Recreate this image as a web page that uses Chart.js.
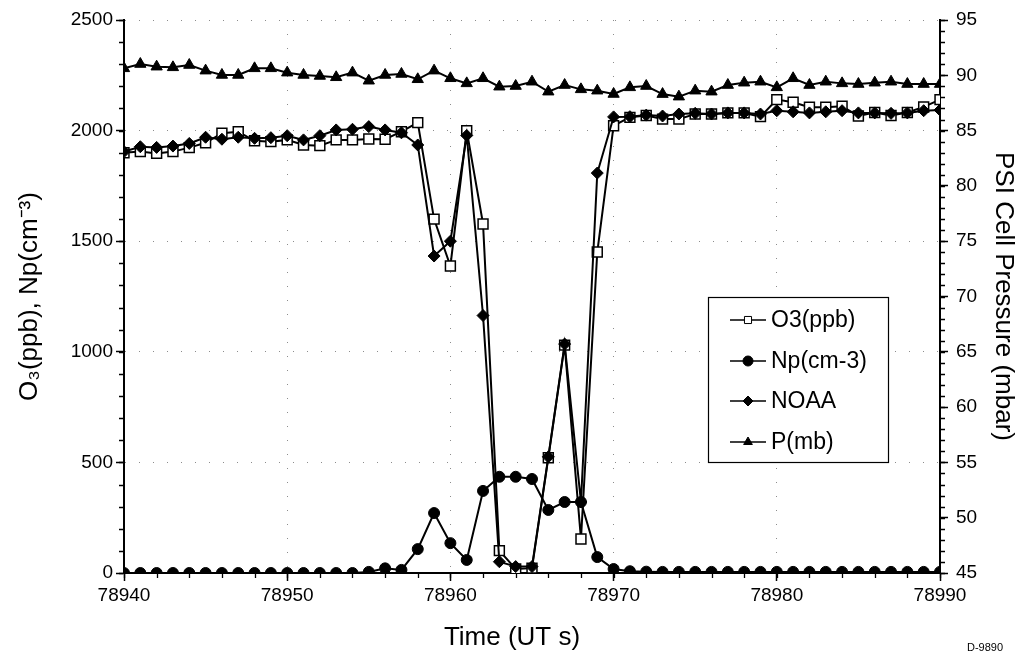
<!DOCTYPE html>
<html>
<head>
<meta charset="utf-8">
<script src="https://cdn.jsdelivr.net/npm/chart.js@4.4.1/dist/chart.umd.min.js"></script>
<style>
  html, body { margin: 0; padding: 0; background: #fff; }
  #wrap { position: relative; width: 1022px; height: 664px; }
</style>
</head>
<body>
<div id="wrap"><canvas id="c"></canvas></div>
<script>
const FONT = "'Liberation Sans', Arial, Helvetica, sans-serif";

// time stamps (UT s), one sample per second
const TIMES = [
  78940, 78941, 78942, 78943, 78944, 78945, 78946, 78947, 78948, 78949,
  78950, 78951, 78952, 78953, 78954, 78955, 78956, 78957, 78958, 78959,
  78960, 78961, 78962, 78963, 78964, 78965, 78966, 78967, 78968, 78969,
  78970, 78971, 78972, 78973, 78974, 78975, 78976, 78977, 78978, 78979,
  78980, 78981, 78982, 78983, 78984, 78985, 78986, 78987, 78988, 78989,
  78990
];

const O3 = [
  1900, 1905, 1897, 1905, 1923, 1945, 1988, 1995, 1954, 1950,
  1958, 1935, 1932, 1958, 1958, 1962, 1961, 1995, 2036, 1600,
  1388, 2000, 1578, 101, 18, 22, 521, 1030, 154, 1451,
  2022, 2060, 2068, 2052, 2052, 2075, 2075, 2080, 2080, 2063,
  2140, 2128, 2106, 2106, 2110, 2066, 2082, 2068, 2082, 2107,
  2140
];

const NP = [
  0, 0, 0, 0, 0, 0, 0, 0, 0, 0,
  0, 0, 0, 0, 0, 5, 21, 14, 108, 271,
  135, 59, 371, 435, 435, 425, 285, 321, 321, 72,
  18, 8, 6, 5, 5, 5, 5, 5, 5, 5,
  5, 5, 5, 5, 5, 5, 5, 5, 5, 5,
  5
];

const NOAA = [
  1905, 1927, 1924, 1930, 1942, 1970, 1961, 1970, 1965, 1968,
  1977, 1958, 1977, 2003, 2006, 2018, 2003, 1990, 1935, 1433,
  1500, 1978, 1164, 51, 29, 29, 525, 1035, 321, 1808,
  2062, 2063, 2070, 2066, 2075, 2078, 2075, 2080, 2080, 2075,
  2090, 2085, 2080, 2085, 2090, 2080, 2080, 2078, 2080, 2090,
  2093
];

const PRESS = [
  90.63, 91.02, 90.78, 90.72, 90.93, 90.42, 90.03, 90.03, 90.63, 90.63,
  90.24, 90.03, 89.94, 89.82, 90.24, 89.51, 90.03, 90.12, 89.64, 90.42,
  89.73, 89.27, 89.73, 88.97, 89.03, 89.42, 88.52, 89.12, 88.73, 88.61,
  88.31, 88.91, 89.03, 88.30, 88.07, 88.61, 88.52, 89.12, 89.33, 89.42,
  88.91, 89.73, 89.12, 89.42, 89.27, 89.21, 89.33, 89.42, 89.21, 89.21,
  89.21
];

const LABELS = ['O3(ppb)', 'Np(cm-3)', 'NOAA', 'P(mb)'];
const Y_TITLE = 'O\u2083(ppb), Np(cm\u207B\u00B3)';
const Y1_TITLE = 'PSI Cell Pressure (mbar)';
const X_TITLE = 'Time (UT s)';
const TAG = 'D-9890';

const pts = vals => TIMES.map((t, i) => ({ x: t, y: vals[i] }));

// marker shapes for the legend, same as the plot markers
function drawMarker(ctx, style, x, y, r, fill) {
  ctx.beginPath();
  if (style === 'rect') {
    const s = r * Math.SQRT1_2;
    ctx.rect(x - s, y - s, 2 * s, 2 * s);
  } else if (style === 'circle') {
    ctx.arc(x, y, r, 0, Math.PI * 2);
  } else if (style === 'rectRot') {
    ctx.moveTo(x, y - r); ctx.lineTo(x + r, y); ctx.lineTo(x, y + r); ctx.lineTo(x - r, y);
    ctx.closePath();
  } else {
    ctx.moveTo(x, y - r); ctx.lineTo(x + r * 0.87, y + r * 0.5); ctx.lineTo(x - r * 0.87, y + r * 0.5);
    ctx.closePath();
  }
  ctx.fillStyle = fill;
  ctx.fill();
  ctx.stroke();
}

const extras = {
  id: 'extras',
  afterDraw(chart) {
    const ctx = chart.ctx;
    const { x, y, y1 } = chart.scales;
    const a = chart.chartArea;
    ctx.save();

    // minor ticks
    ctx.strokeStyle = '#000';
    ctx.lineWidth = 1.3;
    ctx.beginPath();
    for (let v = 0; v <= 2500; v += 100) {
      const py = Math.round(y.getPixelForValue(v)) + 0.5;
      ctx.moveTo(a.left - 5, py); ctx.lineTo(a.left, py);
    }
    for (let v = 45; v <= 95; v += 1) {
      const py = Math.round(y1.getPixelForValue(v)) + 0.5;
      ctx.moveTo(a.right, py); ctx.lineTo(a.right + 5, py);
    }
    for (let v = 78940; v <= 78990; v += 2) {
      const px = Math.round(x.getPixelForValue(v)) + 0.5;
      ctx.moveTo(px, a.bottom); ctx.lineTo(px, a.bottom + 5);
    }
    ctx.stroke();

    // legend
    const bx = 708, by = 297, bw = 180, bh = 165;
    ctx.lineWidth = 1.2;
    ctx.fillStyle = '#fff';
    ctx.fillRect(bx, by, bw, bh);
    ctx.strokeRect(bx + 0.5, by + 0.5, bw, bh);
    const rows = [320, 361, 401, 442];
    ctx.font = '23px ' + FONT;
    ctx.textBaseline = 'middle';
    ctx.textAlign = 'left';
    chart.data.datasets.forEach((ds, i) => {
      const ry = rows[i];
      ctx.strokeStyle = '#000';
      ctx.lineWidth = 1.5;
      ctx.beginPath(); ctx.moveTo(730, ry); ctx.lineTo(766, ry); ctx.stroke();
      ctx.lineWidth = 1;
      drawMarker(ctx, ds.pointStyle, 748, ry, 5, ds.pointBackgroundColor);
      ctx.fillStyle = '#000';
      ctx.fillText(LABELS[i], 771, ry + 1);
    });

    // bottom title and drawing tag
    ctx.textAlign = 'center';
    ctx.font = '26px ' + FONT;
    ctx.fillText(X_TITLE, 512, 638);
    ctx.font = '11px ' + FONT;
    ctx.fillText(TAG, 985, 648);
    ctx.restore();
  }
};

const tickFont = { family: FONT, size: 19 };
const titleFont = { family: FONT, size: 26 };
const gridDash = [1, 13];

new Chart(document.getElementById('c'), {
  type: 'line',
  data: {
    datasets: [
      { label: LABELS[0], data: pts(O3), yAxisID: 'y', order: 4,
        borderColor: '#000', borderWidth: 2, pointStyle: 'rect', pointRadius: 7,
        pointBackgroundColor: '#fff', pointBorderColor: '#000', pointBorderWidth: 1.5 },
      { label: LABELS[1], data: pts(NP), yAxisID: 'y', order: 2,
        borderColor: '#000', borderWidth: 2, pointStyle: 'circle', pointRadius: 5.5,
        pointBackgroundColor: '#000', pointBorderColor: '#000', pointBorderWidth: 1 },
      { label: LABELS[2], data: pts(NOAA), yAxisID: 'y', order: 3,
        borderColor: '#000', borderWidth: 2, pointStyle: 'rectRot', pointRadius: 6,
        pointBackgroundColor: '#000', pointBorderColor: '#000', pointBorderWidth: 1 },
      { label: LABELS[3], data: pts(PRESS), yAxisID: 'y1', order: 1,
        borderColor: '#000', borderWidth: 2, pointStyle: 'triangle', pointRadius: 6.5,
        pointBackgroundColor: '#000', pointBorderColor: '#000', pointBorderWidth: 1 },
    ],
  },
  options: {
    responsive: true,
    maintainAspectRatio: false,
    animation: false,
    layout: { padding: { top: 20, left: 0, right: 0, bottom: 0 } },
    elements: { line: { tension: 0 } },
    plugins: { legend: { display: false }, tooltip: { enabled: false } },
    scales: {
      x: {
        type: 'linear', min: 78940, max: 78990,
        afterFit: s => { s.height = 91; },
        ticks: { stepSize: 10, color: '#000', font: tickFont, padding: 3, maxRotation: 0,
          callback: v => String(v) },
        grid: { color: 'rgba(0,0,0,0.45)', lineWidth: 1, drawTicks: true, tickLength: 8,
          tickColor: '#000', tickWidth: 1.5, tickBorderDash: [] },
        border: { display: true, color: '#000', width: 2, dash: gridDash },
      },
      y: {
        position: 'left', min: 0, max: 2500,
        afterFit: s => { s.width = 124; },
        ticks: { stepSize: 500, color: '#000', font: tickFont, padding: 3,
          callback: v => String(v) },
        grid: { color: 'rgba(0,0,0,0.45)', lineWidth: 1, drawTicks: true, tickLength: 8,
          tickColor: '#000', tickWidth: 1.5, tickBorderDash: [] },
        border: { display: true, color: '#000', width: 2, dash: gridDash },
        title: { display: true, text: Y_TITLE, color: '#000', font: titleFont,
          padding: { top: 14, bottom: 0 } },
      },
      y1: {
        position: 'right', min: 45, max: 95,
        afterFit: s => { s.width = 82; },
        ticks: { stepSize: 5, color: '#000', font: tickFont, padding: 8,
          callback: v => String(v) },
        grid: { drawOnChartArea: false, drawTicks: true, tickLength: 8,
          tickColor: '#000', tickWidth: 1.5 },
        border: { display: true, color: '#000', width: 2 },
        title: { display: true, text: Y1_TITLE, color: '#000', font: titleFont,
          padding: { top: 3, bottom: 0 } },
      },
    },
  },
  plugins: [extras],
});
</script>
</body>
</html>
